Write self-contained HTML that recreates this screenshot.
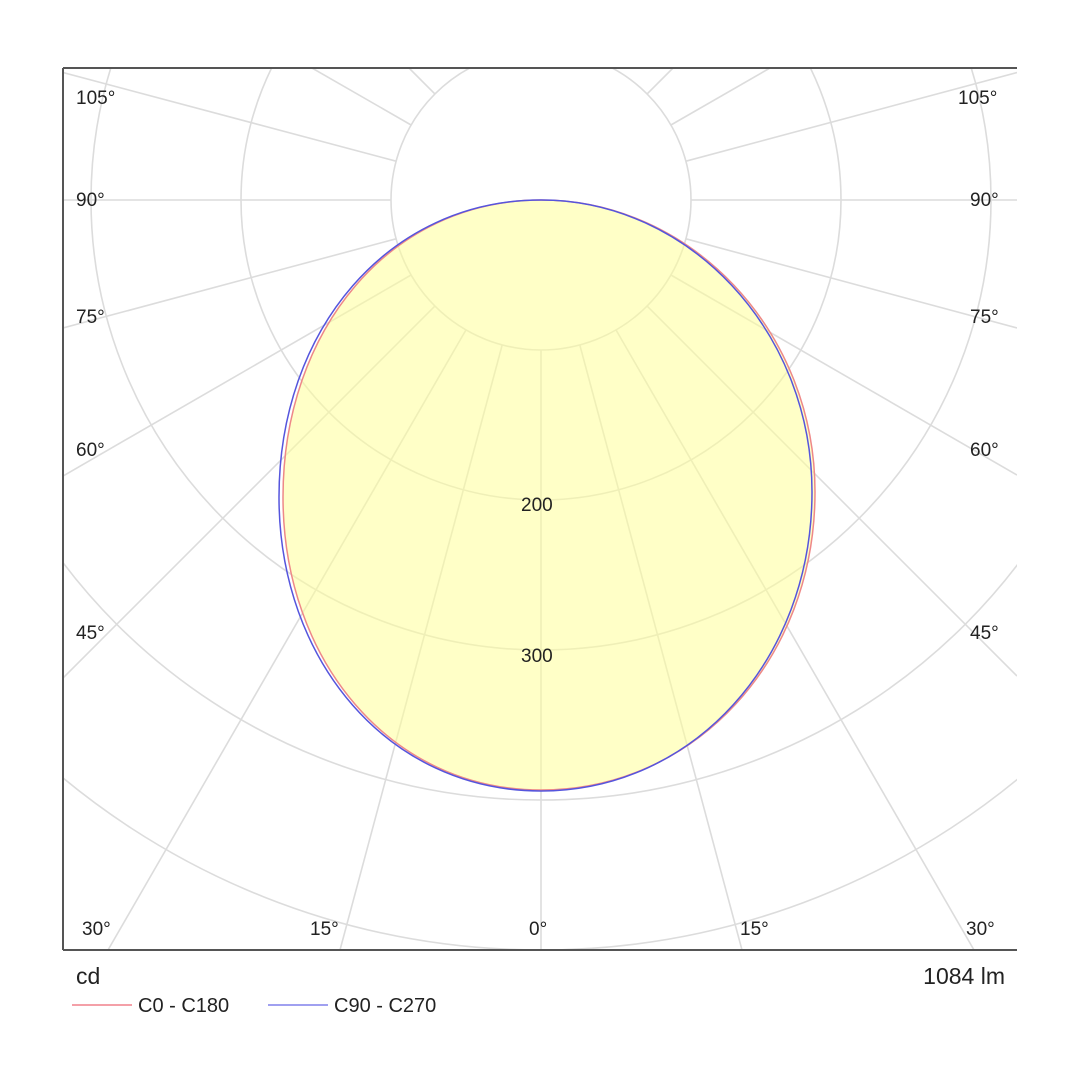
<!DOCTYPE html>
<html><head><meta charset="utf-8"><style>
html,body{margin:0;padding:0;background:#fff;width:1080px;height:1080px;overflow:hidden}
svg{display:block}
svg text{font-family:"Liberation Sans",sans-serif;fill:#222}
</style></head><body>
<svg width="1080" height="1080" viewBox="0 0 1080 1080" style="position:absolute;left:0;top:0;overflow:hidden">
<svg x="63" y="68" width="954" height="882" viewBox="63 68 954 882" overflow="hidden">
<g stroke="#dcdcdc" stroke-width="1.6" fill="none">
<circle cx="541" cy="200" r="150"/><circle cx="541" cy="200" r="300"/><circle cx="541" cy="200" r="450"/><circle cx="541" cy="200" r="600"/><circle cx="541" cy="200" r="750"/><circle cx="541" cy="200" r="900"/>
</g>
<g stroke="#dcdcdc" stroke-width="1.6">
<line x1="541" y1="350" x2="541" y2="950"/>
<line x1="579.8" y1="344.9" x2="742" y2="950"/><line x1="502.2" y1="344.9" x2="340" y2="950"/>
<line x1="616" y1="329.9" x2="974" y2="950"/><line x1="466" y1="329.9" x2="108" y2="950"/>
<line x1="647.1" y1="306.1" x2="1017" y2="676"/><line x1="434.9" y1="306.1" x2="63" y2="678"/>
<line x1="670.9" y1="275" x2="1017" y2="475"/><line x1="411.1" y1="275" x2="63" y2="476"/>
<line x1="685.9" y1="238.8" x2="1017" y2="328"/><line x1="396.1" y1="238.8" x2="63" y2="328"/>
<line x1="691" y1="200" x2="1017" y2="200"/><line x1="391" y1="200" x2="63" y2="200"/>
<line x1="685.9" y1="161.2" x2="1017" y2="72.5"/><line x1="396.1" y1="161.2" x2="63" y2="72.5"/>
<line x1="670.9" y1="125" x2="770" y2="68"/><line x1="411.1" y1="125" x2="312" y2="68"/>
<line x1="647.1" y1="93.9" x2="673" y2="68"/><line x1="434.9" y1="93.9" x2="409" y2="68"/>
</g>
<path d="M541,200 C690,200 815,330 815,492 C815,660 695,790 541,790 C390,790 283,660 283,497 C283,330 390,200 541,200 Z" fill="#ffff99" fill-opacity="0.55" stroke="#e88" stroke-width="1.5"/>
<path d="M541,200 C688,200 812,330 812,492 C812,660 693,791 541,791 C388,791 279,660 279,497 C279,330 388,200 541,200 Z" fill="none" stroke="#55d" stroke-width="1.5"/>
</svg>
<g stroke="#555" stroke-width="2"><line x1="63" y1="68" x2="1017" y2="68"/><line x1="63" y1="68" x2="63" y2="950"/><line x1="63" y1="950" x2="1017" y2="950"/></g>
<g font-size="19">
<text x="76" y="104">105°</text><text x="958" y="104">105°</text>
<text x="76" y="206">90°</text><text x="970" y="206">90°</text>
<text x="76" y="323">75°</text><text x="970" y="323">75°</text>
<text x="76" y="456">60°</text><text x="970" y="456">60°</text>
<text x="76" y="639">45°</text><text x="970" y="639">45°</text>
<text x="82" y="935">30°</text><text x="310" y="935">15°</text><text x="529" y="935">0°</text><text x="740" y="935">15°</text><text x="966" y="935">30°</text>
<text x="521" y="511">200</text><text x="521" y="662">300</text>
</g>
<text x="76" y="984" font-size="23">cd</text>
<text x="1005" y="984" font-size="23" text-anchor="end">1084 lm</text>
<line x1="72" y1="1005" x2="132" y2="1005" stroke="#f4a0a8" stroke-width="2"/>
<text x="138" y="1012" font-size="20">C0 - C180</text>
<line x1="268" y1="1005" x2="328" y2="1005" stroke="#a0a0f0" stroke-width="2"/>
<text x="334" y="1012" font-size="20">C90 - C270</text>
</svg>
</body></html>
